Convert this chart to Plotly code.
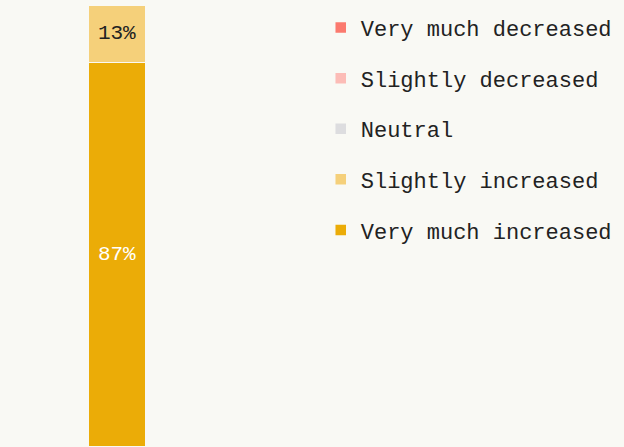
import plotly.graph_objects as go

categories = ["All"]
series_names = ["Very much increased", "Slightly increased", "Neutral",
                "Slightly decreased", "Very much decreased"]
series_values = [[87], [13], [0], [0], [0]]
series_colors = ["#ebac07", "#f5d07a", "#dddddf", "#fcbcb6", "#fb7a6e"]
text_colors = ["#ffffff", "#222222", "#222222", "#222222", "#ffffff"]

FONT = "Liberation Mono"
BG = "#f9f9f4"

fig = go.Figure()
n = len(series_names)
for i, (name, vals, col, tcol) in enumerate(zip(series_names, series_values, series_colors, text_colors)):
    fig.add_trace(go.Bar(
        x=[0], y=vals, width=1, name=name, legendgroup=name,
        legendrank=n - i,
        marker=dict(color=col, line=dict(color=BG, width=1.5)),
        text=[f"{v}%" if v > 0 else "" for v in vals],
        textposition="inside", insidetextanchor="middle",
        textfont=dict(family=FONT, size=21, color=tcol),
        hovertemplate=name + ": %{y}%<extra></extra>",
    ))

fig.update_layout(
    barmode="stack",
    width=624, height=447,
    margin=dict(l=0, r=0, t=5, b=0),
    paper_bgcolor=BG, plot_bgcolor=BG,
    font=dict(family=FONT, size=22, color="#222222"),
    xaxis=dict(range=[-2.017, 8.74], visible=False, fixedrange=True),
    yaxis=dict(range=[0, 100], visible=False, fixedrange=True),
    showlegend=True,
    uniformtext=dict(minsize=10, mode="show"),
    legend=dict(
        x=0.514, y=0.996, xanchor="left", yanchor="top",
        traceorder="grouped", tracegroupgap=19,
        bgcolor="rgba(0,0,0,0)",
        font=dict(family=FONT, size=22, color="#222222"),
        itemwidth=30,
    ),
)

fig.write_html(
    "out.html",
    config={"displayModeBar": False},
    post_script="document.body.style.margin='0';document.body.style.background='" + BG + "';",
)
